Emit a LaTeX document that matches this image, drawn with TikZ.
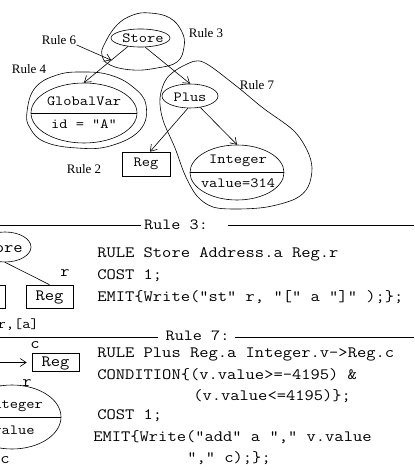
\documentclass[tikz,border=0pt]{standalone}
\usepackage{fontspec}
\setmainfont{Liberation Serif}
\setmonofont{Latin Modern Mono}[FakeStretch=1.14]
\usetikzlibrary{shapes.geometric,arrows.meta,calc}
\begin{document}
\begin{tikzpicture}[x=1pt,y=-1pt,line width=0.6pt,
  lbl/.style={font=\fontsize{13}{15}\selectfont, inner sep=0pt},
  nd/.style={font=\ttfamily\fontsize{14}{16}\selectfont, inner sep=0pt},
  cd/.style={font=\ttfamily\fontsize{15.8}{18}\selectfont, inner sep=0pt, anchor=west},
  sm/.style={font=\ttfamily\fontsize{14}{16}\selectfont, inner sep=0pt},
  ell/.style={draw, ellipse, inner sep=0pt},
  box/.style={draw, rectangle, inner sep=0pt},
  arr/.style={-{Straight Barb[length=6pt,width=8pt]}},
  blob/.style={smooth cycle, tension=0.7}]
\useasboundingbox (0,0) rectangle (414,470);

% ---------- upper tree ----------
\node[ell, minimum width=59pt, minimum height=18pt] (store) at (140.5,38) {};
\node[nd] (storet) at (143,38) {Store};
\node[ell, minimum width=106pt, minimum height=60pt] (gv) at (84,113) {};
\draw (gv.west) -- (gv.east);
\node[nd] (gvt) at (84,101) {GlobalVar};
\node[nd] (gvv) at (84,124) {id = "A"};
\node[ell, minimum width=56pt, minimum height=24pt] (plus) at (190,96) {};
\node[nd] (plust) at (190,97) {Plus};
\node[box, minimum width=48pt, minimum height=24pt] (reg1) at (146,164) {};
\node[nd] (reg1t) at (146,164) {Reg};
\node[ell, minimum width=94pt, minimum height=55pt] (int) at (237,172.5) {};
\draw (int.west) -- (int.east);
\node[nd] (intt) at (238,161) {Integer};
\node[nd] (intv) at (238,183) {value=314};

% rule blobs
\draw plot[blob] coordinates {(105,43) (117,25) (133,15) (150,13) (170,18) (182,32) (184,47) (177,62) (157,68) (133,70) (110,65) (102,55)};
\draw plot[blob] coordinates {(27,112) (35,88) (57,75) (83,72) (110,75) (133,87) (146,105) (140,130) (110,146) (77,148) (45,142) (30,128)};
\draw plot[smooth cycle, tension=0.55] coordinates {(203,62) (235,85) (263,108) (293,130) (307,150) (312,168) (308,187) (295,199) (267,207) (237,209) (213,207) (197,196) (185,175) (175,148) (163,120) (160,98) (167,78) (185,65)};

% labels
\node[lbl] (r6) at (59,40) {Rule 6};
\node[lbl] (r3) at (206,33) {Rule 3};
\node[lbl] (r4) at (29,69) {Rule 4};
\node[lbl] (r7) at (257,85) {Rule 7};
\node[lbl] (r2) at (84,169) {Rule 2};

% edges
\draw[arr] (store.214) -- coordinate[pos=0.38] (m6) (gv.north);
\draw[arr] (store.-63) -- (plus.north);
\draw[arr] (plus.-100) -- ($(reg1.north)+(4,0)$);
\draw[arr] (plus.-48) -- (int.north);
\draw[arr] (r6.south east) -- (m6);

% ---------- Rule 3 section ----------
\node[font=\ttfamily\fontsize{15.5}{18}\selectfont, inner sep=0pt] (t3) at (176,225) {Rule 3:};
\coordinate (l3a) at (0,225);
\coordinate (l3b) at (414,225);
\draw (l3a) -- ($(t3.west)+(-3,0)$);
\draw ($(t3.east)+(20,0)$) -- (l3b);

\node[ell, minimum width=52pt, minimum height=30pt] (store2) at (5,247) {};
\node[cd, anchor=east] (store2t) at (23,248) {Store};
\node[box, minimum width=45pt, minimum height=23pt] (addr) at (-17.5,296.5) {};
\node[box, minimum width=47pt, minimum height=23pt] (reg2) at (49.5,296.5) {};
\node[cd, anchor=center] (reg2t) at (49.5,297) {Reg};
\draw (store2.south) -- (reg2.north);
\node[cd, anchor=center] (rr) at (65,273) {r};
\node[sm, anchor=east] (ra) at (39,325) {r,[a]};

\node[cd] (c31) at (97,254) {RULE Store Address.a Reg.r};
\node[cd] (c32) at (97,276) {COST 1;};
\node[cd] (c33) at (97,297) {EMIT\{Write("st" r, "[" a "]" );\};};

% ---------- Rule 7 section ----------
\node[font=\ttfamily\fontsize{15.5}{18}\selectfont, inner sep=0pt] (t7) at (197.5,336) {Rule 7:};
\coordinate (l7a) at (0,337);
\coordinate (l7b) at (414,337);
\draw (l7a) -- ($(t7.west)+(-7,1)$);
\draw ($(t7.east)+(5,1)$) -- (l7b);

\node[box, minimum width=47pt, minimum height=18pt] (reg3) at (55.5,362.5) {};
\node[cd, anchor=center] (reg3t) at (55.5,363) {Reg};
\coordinate (in3) at (-10,362.5);
\draw[arr, shorten >=5pt] (in3) -- (reg3.west);
\node[cd, anchor=center] (c7c) at (35,345) {c};
\node[cd, anchor=center] (c7r) at (27,383) {r};
\node[ell, minimum width=98pt, minimum height=64pt] (int2) at (12,417) {};
\draw (int2.west) -- (int2.east);
\node[sm] (int2t) at (14,406) {Integer};
\node[sm] (int2v) at (14,430) {value};
\coordinate (in4) at (-12,380);
\draw[arr] (in4) -- (int2.110);
\node[cd, anchor=center] (c7c2) at (5,460) {c};

\node[cd] (c71) at (97,354) {RULE Plus Reg.a Integer.v->Reg.c};
\node[cd] (c72) at (97,375) {CONDITION\{(v.value>=-4195) \&};
\node[cd] (c73) at (193,396) {(v.value<=4195)\};};
\node[cd] (c74) at (97,416) {COST 1;};
\node[cd] (c75) at (93,437) {EMIT\{Write("add" a "," v.value};
\node[cd] (c76) at (187,458) {"," c);\};};
\end{tikzpicture}
\end{document}
